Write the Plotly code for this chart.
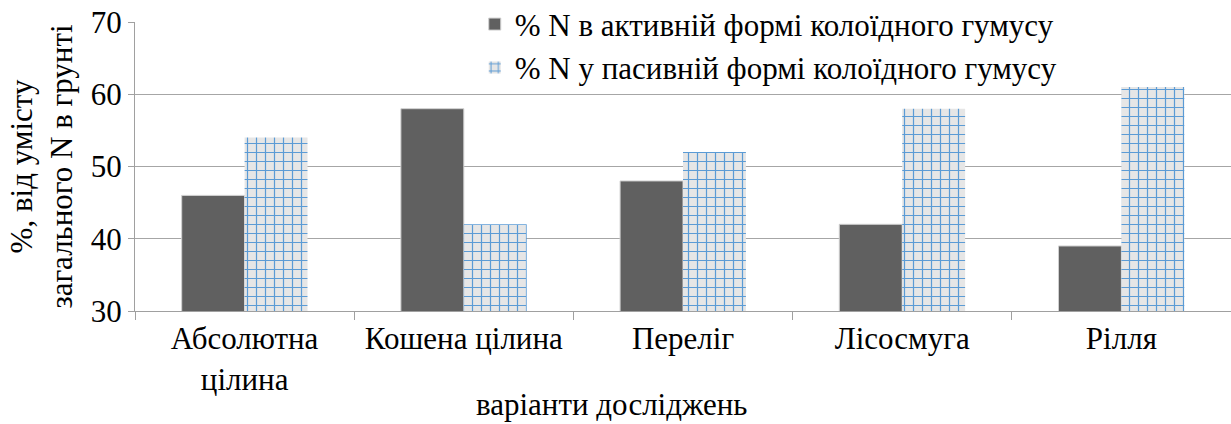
import plotly.graph_objects as go

categories = ["Абсолютна<br>цілина", "Кошена цілина", "Переліг", "Лісосмуга", "Рілля"]
active = [46, 58, 48, 42, 39]
passive = [54, 42, 52, 58, 61]
name_active = "% N в активній формі колоїдного гумусу"
name_passive = "% N у пасивній формі колоїдного гумусу"

FONT = "Liberation Serif, Times New Roman, serif"
FS = 31

def fnt():
    return dict(family=FONT, size=FS, color="black")

fig = go.Figure()
fig.add_trace(go.Bar(
    x=categories, y=active, name=name_active,
    marker=dict(color="#606060", line=dict(color="#d0d0d0", width=1)),
))
fig.add_trace(go.Bar(
    x=categories, y=passive, name=name_passive,
    marker=dict(color="#e6e6e6", line=dict(width=0),
                pattern=dict(shape="+", fgcolor="#5b9bd5", bgcolor="#e6e6e6",
                             size=9, solidity=0.25, fillmode="replace")),
))

fig.update_layout(
    width=1231, height=424,
    margin=dict(l=135, r=0, t=22, b=113, autoexpand=False),
    paper_bgcolor="white", plot_bgcolor="white",
    font=fnt(),
    barmode="group", bargap=0.426, bargroupgap=0,
    showlegend=True,
    legend=dict(x=0.31, y=1.085, xanchor="left", yanchor="top",
                bgcolor="white", font=fnt(),
                tracegroupgap=0, itemwidth=30),
    xaxis=dict(
        type="category", showline=True, linecolor="#a0a0a0", linewidth=1,
        ticks="outside", tickson="boundaries", ticklen=8, tickcolor="#a0a0a0",
        tickfont=fnt(), showgrid=False, automargin=False,
    ),
    yaxis=dict(
        range=[30, 70], dtick=10, showline=True, linecolor="#a0a0a0", linewidth=1,
        ticks="outside", ticklen=6, tickcolor="#a0a0a0",
        showgrid=True, gridcolor="#a6a6a6", gridwidth=1.3,
        tickfont=fnt(), automargin=False,
        title=dict(text="%, від умісту<br>загального N в грунті",
                   font=fnt(), standoff=8),
        zeroline=False,
    ),
    annotations=[dict(
        text="варіанти досліджень", x=0.435, y=-0.325, xref="paper", yref="paper",
        xanchor="center", yanchor="middle", showarrow=False,
        font=fnt(),
    )],
)

fig.write_html("out.html")
